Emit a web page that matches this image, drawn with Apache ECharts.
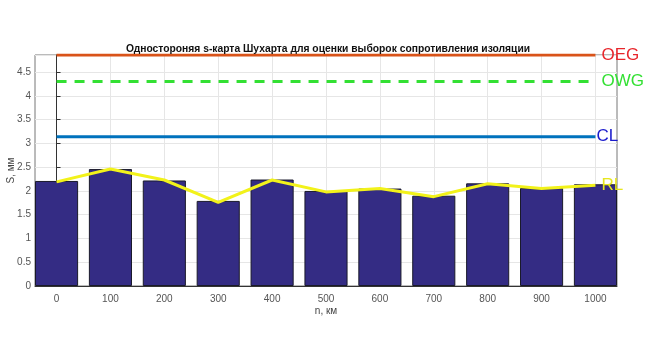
<!DOCTYPE html>
<html><head><meta charset="utf-8">
<script src="https://cdn.jsdelivr.net/npm/echarts@6/dist/echarts.min.js"></script>
<style>html,body{margin:0;padding:0;background:#fff}#c{width:650px;height:360px}</style>
</head><body><div id="c"></div>
<script>
const distancesKm = [0,100,200,300,400,500,600,700,800,900,1000];
const barValues = [2.21,2.46,2.22,1.79,2.24,2.00,2.05,1.90,2.16,2.06,2.14];
const lineValues = [2.19,2.46,2.23,1.76,2.23,1.98,2.05,1.88,2.15,2.05,2.12];
const OEG = 4.86, OWG = 4.30, CL = 3.14;
const xTicks = [0,100,200,300,400,500,600,700,800,900,1000];
const title = 'Одностороняя s-карта Шухарта для оценки выборок сопротивления изоляции';

const chart = echarts.init(document.getElementById('c'));
const hline = (v) => [[distancesKm[0], v],[distancesKm[distancesKm.length-1], v]];
const font = 'Liberation Sans, Arial, sans-serif';
chart.setOption({
  animation:false,
  backgroundColor:'#fff',
  title:{text:title,left:323,textAlign:'center',top:39,textStyle:{fontSize:10.3,fontWeight:'bold',color:'#111',fontFamily:font}},
  grid:{left:35,right:33,top:55,bottom:74,show:true,borderColor:'#777',borderWidth:1,containLabel:false,outerBoundsMode:'none'},
  xAxis:{type:'value',min:-40,max:1040,name:'n, км',nameLocation:'middle',nameGap:20,nameMoveOverlap:false,
    nameTextStyle:{fontSize:10,color:'#444',fontFamily:font},
    axisLine:{show:true,onZero:false,lineStyle:{color:'#333'}},
    axisTick:{show:true,inside:true,length:4,customValues:xTicks,lineStyle:{color:'#333'}},
    axisLabel:{customValues:xTicks,formatter:(v)=>String(v),fontSize:10,color:'#555',margin:8,fontFamily:font},
    splitLine:{show:true,lineStyle:{color:'#e6e6e6'}}},
  yAxis:{type:'value',min:0,max:OEG,interval:0.5,name:'S, мм',nameLocation:'middle',nameGap:19,nameMoveOverlap:false,
    nameTextStyle:{fontSize:10,color:'#444',fontFamily:font},
    axisLine:{show:true,lineStyle:{color:'#333'}},
    axisTick:{show:true,inside:true,length:4,lineStyle:{color:'#333'}},
    axisLabel:{showMaxLabel:false,fontSize:10,color:'#555',margin:4,fontFamily:font},
    splitLine:{show:true,lineStyle:{color:'#e6e6e6'}}},
  series:[
    {type:'bar',data:distancesKm.map((x,i)=>[x,barValues[i]]),barWidth:'80%',
      itemStyle:{color:'#342C84',borderColor:'#1a1a2a',borderWidth:1},z:2},
    {type:'line',data:distancesKm.map((x,i)=>[x,lineValues[i]]),showSymbol:false,
      lineStyle:{color:'#F2F21A',width:3},z:4,
      endLabel:{show:true,formatter:'RL',color:'#E6E61E',fontSize:17,fontFamily:font,distance:6}},
    {type:'line',data:hline(OEG),showSymbol:false,lineStyle:{color:'#D95319',width:3},z:5,
      endLabel:{show:true,formatter:'OEG',color:'#E8262B',fontSize:17,fontFamily:font,distance:6}},
    {type:'line',data:hline(OWG),showSymbol:false,lineStyle:{color:'#33E033',width:3,type:[10,8]},z:5,
      endLabel:{show:true,formatter:'OWG',color:'#33E033',fontSize:17,fontFamily:font,distance:6}},
    {type:'line',data:hline(CL),showSymbol:false,lineStyle:{color:'#0072BD',width:3},z:5,
      endLabel:{show:true,formatter:'CL',color:'#1A1ACC',fontSize:17,fontFamily:font,distance:1}}
  ]
});
</script></body></html>
